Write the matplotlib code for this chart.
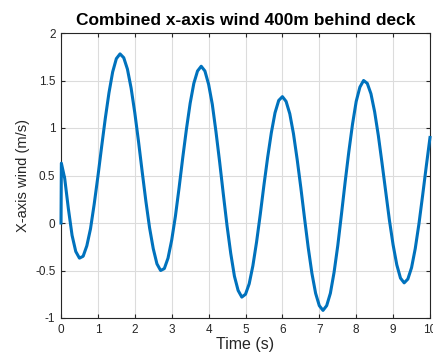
import matplotlib
matplotlib.use("Agg")
import matplotlib.pyplot as plt

# wind signal (t in s, u in m/s)
time_s = [0.0, 0.01, 0.1, 0.2, 0.3, 0.4, 0.5, 0.6, 0.7, 0.8, 0.9,
          1.0, 1.1, 1.2, 1.3, 1.4, 1.5, 1.6, 1.7, 1.8, 1.9,
          2.0, 2.1, 2.2, 2.3, 2.4, 2.5, 2.6, 2.7, 2.8, 2.9,
          3.0, 3.1, 3.2, 3.3, 3.4, 3.5, 3.6, 3.7, 3.8, 3.9,
          4.0, 4.1, 4.2, 4.3, 4.4, 4.5, 4.6, 4.7, 4.8, 4.9,
          5.0, 5.1, 5.2, 5.3, 5.4, 5.5, 5.6, 5.7, 5.8, 5.9,
          6.0, 6.1, 6.2, 6.3, 6.4, 6.5, 6.6, 6.7, 6.8, 6.9,
          7.0, 7.1, 7.2, 7.3, 7.4, 7.5, 7.6, 7.7, 7.8, 7.9,
          8.0, 8.1, 8.2, 8.3, 8.4, 8.5, 8.6, 8.7, 8.8, 8.9,
          9.0, 9.1, 9.2, 9.3, 9.4, 9.5, 9.6, 9.7, 9.8, 9.9, 10.0]
wind_x = [0.0, 0.63, 0.47, 0.15, -0.13, -0.30, -0.37, -0.35, -0.24, -0.06, 0.20,
          0.49, 0.80, 1.10, 1.37, 1.59, 1.73, 1.78, 1.74, 1.62, 1.42,
          1.16, 0.86, 0.54, 0.23, -0.05, -0.27, -0.43, -0.50, -0.48, -0.37,
          -0.18, 0.07, 0.37, 0.69, 0.99, 1.26, 1.47, 1.60, 1.65, 1.60,
          1.46, 1.25, 0.96, 0.64, 0.30, -0.03, -0.32, -0.56, -0.71, -0.78,
          -0.75, -0.64, -0.45, -0.20, 0.09, 0.40, 0.69, 0.95, 1.16, 1.29,
          1.33, 1.28, 1.15, 0.94, 0.67, 0.37, 0.05, -0.26, -0.53, -0.74,
          -0.87, -0.92, -0.87, -0.74, -0.52, -0.24, 0.09, 0.43, 0.75, 1.04,
          1.28, 1.43, 1.50, 1.47, 1.36, 1.17, 0.92, 0.63, 0.33, 0.03,
          -0.23, -0.44, -0.58, -0.63, -0.59, -0.47, -0.27, -0.01, 0.29, 0.60, 0.90]

x_ticks = [0, 1, 2, 3, 4, 5, 6, 7, 8, 9, 10]
y_ticks = [-1, -0.5, 0, 0.5, 1, 1.5, 2]
y_labels = ["-1", "-0.5", "0", "0.5", "1", "1.5", "2"]

plt.rcParams['font.family'] = ['Liberation Sans', 'DejaVu Sans']
plt.rcParams['axes.unicode_minus'] = False

fig = plt.figure(figsize=(4.33, 3.6), dpi=100)
ax = fig.add_axes([61 / 433, 42 / 360, 369 / 433, 285 / 360])

# drawn above the spines so the jump at t=0 shows like in MATLAB
ax.plot(time_s, wind_x, color='#0072BD', linewidth=2.2,
        solid_joinstyle='round', zorder=3, clip_on=False)

ax.set_xlim(0, 10)
ax.set_ylim(-1, 2)
ax.set_xticks(x_ticks)
ax.set_yticks(y_ticks)
ax.set_yticklabels(y_labels)

# MATLAB-like look
ax.grid(True, color='#dcdcdc', linewidth=0.8)
ax.set_axisbelow(True)
for s in ax.spines.values():
    s.set_color('#262626')
    s.set_linewidth(0.8)
ax.tick_params(direction='in', length=3, width=0.8, colors='#262626',
               labelsize=8.5, top=True, right=True, pad=4)

ax.set_xlabel('Time (s)', fontsize=11.5, color='#262626', labelpad=1)
ax.set_ylabel('X-axis wind (m/s)', fontsize=10.5, color='#262626', labelpad=4)
ax.set_title('Combined x-axis wind 400m behind deck', fontsize=12.5,
             fontweight='bold', color='black', pad=6)

fig.savefig('out.png', dpi=100)
